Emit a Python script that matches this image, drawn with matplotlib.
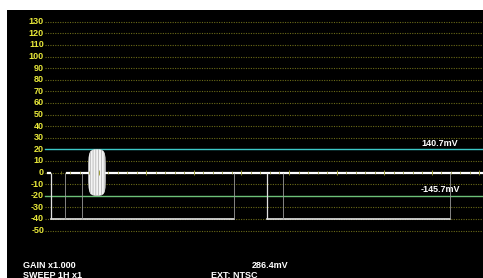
import matplotlib.pyplot as plt
import numpy as np

# graticule levels (IRE)
grid_levels = [130, 120, 110, 100, 90, 80, 70, 60, 50, 40, 30, 20, 10, 0, -10, -20, -30, -40, -50]
tick_labels = [str(v) for v in grid_levels]

# trace, x in graticule divisions (0 = sync leading edge)
blank_x = [0.34, 9.08]            # blanking level 0 IRE
blank_lead_x = [-0.063, -0.021]
sync1_x = [0.0, 3.845]            # sync tip -40 IRE
sync2_x = [4.53, 8.38]
sync_level = -40
bright_edges = [0.0, 4.53]
dim_edges = [0.294, 0.651, 3.845, 4.874, 8.38]

# color burst envelope
burst_t = [0.784, 0.79, 0.805, 0.83, 0.87, 0.92, 0.97, 1.02, 1.07, 1.105, 1.13, 1.145, 1.149]
burst_amp = [8, 13, 16.5, 18.5, 19.5, 20, 20, 20, 19.5, 18.5, 16.5, 13, 8]

cursor_hi = 20
cursor_lo = -20
cursor_hi_txt = "140.7mV"
cursor_lo_txt = "-145.7mV"

W, H = 483, 278
fig = plt.figure(figsize=(W / 100, H / 100), dpi=100, facecolor="white")
ax = fig.add_axes([7 / W, 0, 476 / W, 268 / H])
ax.set_facecolor("black")
for s in ax.spines.values():
    s.set_visible(False)
ax.set_xticks([])
ax.set_yticks([])
ax.set_xlim(-0.924, 9.076)
ax.set_ylim(-90.9, 140.1)

grid_x0 = -0.126
fnt = dict(family="Liberation Sans", fontweight="bold")

for lev, lab in zip(grid_levels, tick_labels):
    if lev != cursor_hi and lev != cursor_lo:
        ax.plot([grid_x0, 9.1], [lev, lev], color="#6a6a18", lw=0.8,
                dashes=(1.0, 1.2), zorder=1)
    ax.text(grid_x0 - 0.02, lev, lab, color="#e8e83a", fontsize=6.5,
            ha="right", va="center", **fnt)

# cursors
ax.plot([grid_x0, 9.1], [cursor_hi, cursor_hi], color="#3cc8c8", lw=1.0, zorder=2)
ax.plot([grid_x0, 9.1], [cursor_lo, cursor_lo], color="#6cc078", lw=1.0, zorder=2)
ax.text(7.79, cursor_hi + 5.4, cursor_hi_txt, color="white", fontsize=6.5,
        ha="left", va="center", **fnt)
ax.text(7.77, cursor_lo + 5.0, cursor_lo_txt, color="white", fontsize=6.5,
        ha="left", va="center", **fnt)

# waveform
ax.plot(blank_x, [0, 0], color="white", lw=1.6, zorder=4)
ax.plot(blank_lead_x, [0, 0], color="white", lw=1.6, zorder=4)
ax.plot(sync1_x, [sync_level] * 2, color="#e6e6e6", lw=1.2, zorder=4)
ax.plot(sync2_x, [sync_level] * 2, color="#e6e6e6", lw=1.2, zorder=4)
ax.vlines(bright_edges, sync_level, 0, color="#e0e0e0", lw=0.9, zorder=4)
ax.vlines(dim_edges, sync_level, 0, color="#9a9a9a", lw=0.6, zorder=4)

# burst
plt.rcParams["hatch.linewidth"] = 0.5
amp = np.array(burst_amp)
ax.fill_between(burst_t, -amp, amp, facecolor="#f4f4f4", edgecolor="#a8a8a8",
                hatch="||||||", lw=0, zorder=5)

# graticule ticks on blanking line
minor = np.arange(0.2, 9.05, 0.2)
major = np.arange(1, 9.05, 1)
ax.vlines(minor, -1.2, 1.2, color="#8a8a2a", lw=0.5, zorder=6)
ax.vlines(major, -2.4, 2.4, color="#9a9a30", lw=0.6, zorder=6)

# status text
def px(x, y):
    return x / W, 1 - y / H

fig.text(*px(23, 265), "GAIN x1.000", color="white", fontsize=6.5, va="center", **fnt)
fig.text(*px(23, 275), "SWEEP 1H x1", color="white", fontsize=6.5, va="center", **fnt)
fig.text(*px(252, 265), "286.4mV", color="white", fontsize=6.5, va="center", **fnt)
fig.text(*px(211, 275), "EXT: NTSC", color="white", fontsize=6.5, va="center", **fnt)

fig.savefig("out.png", dpi=100, facecolor="white")
